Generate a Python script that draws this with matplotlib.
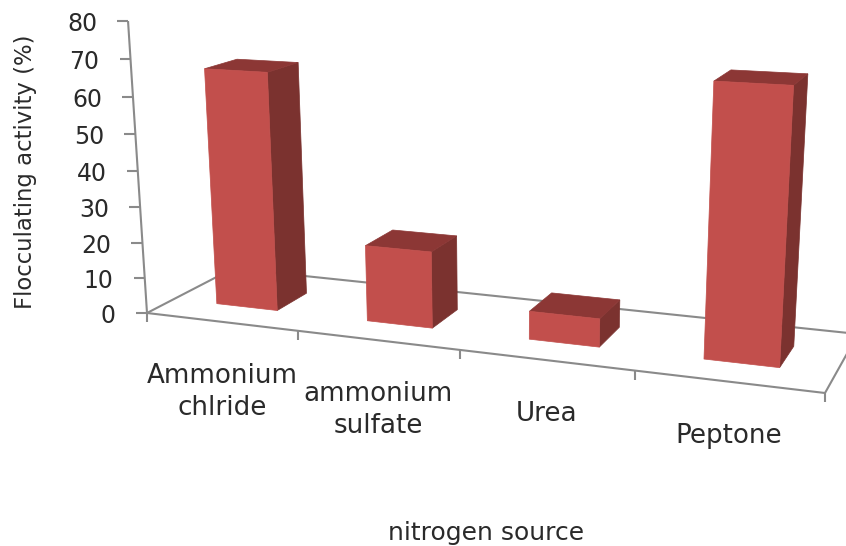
#3d style bar chart, drawn with a perspective mapping onto a pixel-sized axes

import numpy as np
import matplotlib
matplotlib.use("Agg")
import matplotlib.pyplot as plt

categories = ["Ammonium\nchlride", "ammonium\nsulfate", "Urea", "Peptone"]
activity = [66, 21, 7.6, 70]
value_ticks = [0, 10, 20, 30, 40, 50, 60, 70, 80]
xlabel = "nitrogen source"
ylabel = "Flocculating activity (%)"

FRONT = "#C24F4C"
SIDE = "#7B322F"
TOP = "#8C3735"
AXIS = "#8A8A8A"
TEXT = "#2A2A2A"

#floor corners in pixels: (u=0,d=0) (u=4,d=0) (u=4,d=1) (u=0,d=1)
floor_px = [(147, 313), (825, 393), (858, 334), (233, 268.5)]
vanish = (508, 5870)  #where the verticals meet
k = -6.24e-4  #value scale, set so 80 lands on top of the value axis
bar_half = 0.205
depth = (0.30, 0.67)


def floor_matrix(pts):
	"""homography from the unit square to the four floor corners"""
	(x0, y0), (x1, y1), (x2, y2), (x3, y3) = pts
	sx = x0-x1+x2-x3
	sy = y0-y1+y2-y3
	det = (x1-x2)*(y3-y2)-(x3-x2)*(y1-y2)
	g = (sx*(y3-y2)-(x3-x2)*sy)/det
	h = ((x1-x2)*sy-sx*(y1-y2))/det
	return np.array([[x1-x0+g*x1, x3-x0+h*x3, x0],
		[y1-y0+g*y1, y3-y0+h*y3, y0],
		[g, h, 1.0]])


H = floor_matrix(floor_px)
nticks = len(categories)


def project(u, v, d):
	"""category position u, value v, depth d -> pixel x, y"""
	p = H @ np.array([u/nticks, d, 1.0])
	p = p + v*k*np.array([vanish[0], vanish[1], 1.0])
	return p[0]/p[2], p[1]/p[2]


def draw_line(ax, a, b):
	ax.plot([a[0], b[0]], [a[1], b[1]], color=AXIS, lw=1.5, solid_capstyle="butt", zorder=1)


def face(ax, pts, color):
	xs, ys = zip(*pts)
	ax.fill(xs, ys, facecolor=color, edgecolor=color, lw=0.5, zorder=3)


fig = plt.figure(figsize=(8.46, 5.46), dpi=100)
ax = fig.add_axes([0, 0, 1, 1])
ax.set_xlim(0, 846)
ax.set_ylim(546, 0)
ax.axis("off")

#floor outline
corner = [project(0, 0, 0), project(nticks, 0, 0), project(nticks, 0, 1), project(0, 0, 1)]
for i in range(4):
	draw_line(ax, corner[i], corner[(i+1) % 4])

#value axis, ticks and labels
draw_line(ax, project(0, 0, 0), project(0, value_ticks[-1], 0))
for v in value_ticks:
	x, y = project(0, v, 0)
	draw_line(ax, (x-11, y), (x, y))
	ax.text(x-31, y+3, str(v), ha="right", va="center", fontsize=17, color=TEXT)

#category ticks and labels
for i in range(nticks+1):
	x, y = project(i, 0, 0)
	draw_line(ax, (x, y), (x, y+9))
for i, name in enumerate(categories):
	x, y = project(i+0.5, 0, 0)
	ax.text(x+1, y+41, name, ha="center", va="top", multialignment="center",
		fontsize=18.8, linespacing=1.3, color=TEXT)

#bars
for i, val in enumerate(activity):
	u0 = i+0.5-bar_half
	u1 = i+0.5+bar_half
	d0, d1 = depth
	face(ax, [project(u1, 0, d0), project(u1, 0, d1), project(u1, val, d1), project(u1, val, d0)], SIDE)
	face(ax, [project(u0, val, d0), project(u1, val, d0), project(u1, val, d1), project(u0, val, d1)], TOP)
	face(ax, [project(u0, 0, d0), project(u1, 0, d0), project(u1, val, d0), project(u0, val, d0)], FRONT)

ax.text(486, 533, xlabel, ha="center", va="center", fontsize=18, color=TEXT)
ax.text(26, 172, ylabel, ha="center", va="center", rotation=90, fontsize=16.4, color=TEXT)

fig.savefig("out.png", dpi=100)
